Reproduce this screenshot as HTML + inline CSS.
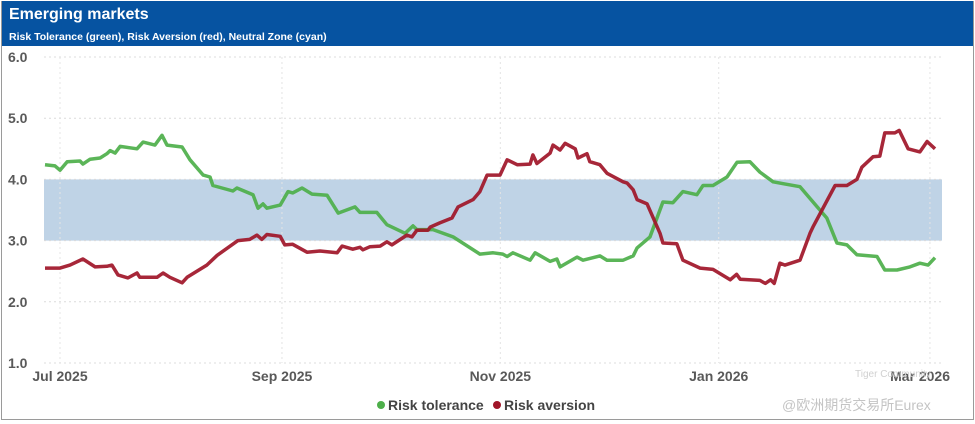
<!DOCTYPE html>
<html><head><meta charset="utf-8"><style>
body{margin:0;background:#fff;width:975px;height:424px;overflow:hidden;font-family:"Liberation Sans","Noto Sans CJK SC",sans-serif}
#wrap{position:absolute;left:1px;top:1px;width:971px;height:418px;border:1px solid #9a9a9a;border-top:none}
#hdr{position:absolute;left:0;top:0;width:971px;height:45px;background:#0653a1}
#t1{position:absolute;left:7px;top:5px;color:#fff;font-weight:bold;font-size:16px}
#t2{position:absolute;left:7px;top:30px;color:#fff;font-weight:bold;font-size:10.5px}
svg{position:absolute;left:0;top:0}
</style></head><body>
<div id="wrap">
<div id="hdr">
<div id="t1">Emerging markets</div>
<div id="t2">Risk Tolerance (green), Risk Aversion (red), Neutral Zone (cyan)</div>
</div></div>
<svg id="chart" width="975" height="424"></svg>
<script>
const yTicks=[1,2,3,4,5,6];
const xTickDays=[0,62,123,184,243];
const xTickLabels=["Jul 2025","Sep 2025","Nov 2025","Jan 2026","Mar 2026"];
const neutralZone=[3,4];
const greenDays=[-4.2,-1.4,0,2,5.6,6.4,8.4,11.2,13.1,14,15.4,16.8,21.5,23.2,26.5,28.5,29.9,34.1,36.3,40,41.9,42.7,48.3,49.4,53.9,55.3,56.7,57.8,61.5,63.7,65,67.6,70.4,74.6,77.7,82.4,83.8,88.5,91.3,96.4,98.6,99.7,104.2,109.8,117.3,121,123.7,124.9,126.5,131.3,132.7,136.9,138.8,139.7,144.4,146.1,150.8,152.8,157.3,160.1,161.2,164.8,168.4,171.2,174,177.9,179.6,182.4,186.3,189.1,192.7,195.5,199.2,202,206.7,211.5,214.2,217,219.8,222.6,228.2,230.4,233.8,237.4,240.2,242.5,244.4];
const greenVals=[4.24,4.22,4.15,4.29,4.3,4.25,4.33,4.35,4.42,4.47,4.43,4.54,4.5,4.61,4.56,4.72,4.56,4.53,4.32,4.07,4.04,3.9,3.81,3.86,3.75,3.53,3.6,3.53,3.58,3.8,3.78,3.86,3.76,3.74,3.45,3.55,3.46,3.46,3.26,3.12,3.24,3.18,3.18,3.06,2.78,2.8,2.78,2.74,2.8,2.68,2.8,2.66,2.7,2.57,2.73,2.68,2.75,2.68,2.68,2.75,2.88,3.06,3.63,3.62,3.8,3.75,3.9,3.9,4.04,4.28,4.29,4.12,3.96,3.93,3.88,3.55,3.37,2.96,2.93,2.77,2.74,2.52,2.52,2.57,2.63,2.6,2.72];
const redDays=[-4.2,0,2.8,6.4,9.8,13.1,14.5,16.2,19,21.5,22.3,27.1,28.8,30.7,34.1,35.5,41,43.9,49.7,53,55,56.4,57.8,61.5,62.8,65,69,72.6,77.4,78.8,81.8,83.8,84.6,86.6,89.4,91.3,92.7,96.9,98.3,99.7,102.8,103.4,106.1,109.5,111.2,115.4,117.3,119.3,122.9,124.9,127.7,131.3,132.1,133.2,136.9,137.7,139.7,141.1,143.9,144.7,147.2,148,150.8,152.8,157.3,158.4,160.1,161.2,164,167.6,168.4,172.3,174,178.8,182.4,187.2,189,190,195.5,197,198.5,199.5,201.1,202.5,206.7,209.5,210.3,216.5,219.8,222.6,224,227.1,229,230.4,233.2,234.4,236.9,240.2,242.2,244.4];
const redVals=[2.55,2.55,2.6,2.7,2.57,2.58,2.6,2.44,2.39,2.47,2.4,2.4,2.47,2.4,2.31,2.4,2.6,2.76,3.0,3.02,3.09,3.02,3.1,3.07,2.93,2.94,2.81,2.83,2.8,2.91,2.86,2.89,2.85,2.9,2.91,2.98,2.93,3.09,3.06,3.17,3.17,3.22,3.29,3.37,3.55,3.67,3.8,4.07,4.07,4.32,4.24,4.25,4.4,4.26,4.43,4.56,4.48,4.59,4.5,4.35,4.42,4.29,4.24,4.1,3.96,3.94,3.83,3.67,3.6,3.12,2.96,2.95,2.68,2.55,2.53,2.36,2.45,2.37,2.35,2.3,2.36,2.3,2.63,2.6,2.68,3.12,3.22,3.9,3.9,4.0,4.2,4.37,4.38,4.76,4.76,4.8,4.5,4.45,4.62,4.5];

const NS="http://www.w3.org/2000/svg";
const svg=document.getElementById('chart');
const X0=44,X1=942;
const xs=d=>60+d*3.58;
const ys=v=>57+(6-v)*61.2;
function mk(t,a,p){const e=document.createElementNS(NS,t);for(const k in a)e.setAttribute(k,a[k]);(p||svg).appendChild(e);return e;}
// neutral band
let band=mk('rect',{x:X0,y:ys(neutralZone[1]),width:X1-X0,height:ys(neutralZone[0])-ys(neutralZone[1]),fill:'#bfd3e6'});


// grid + y labels
yTicks.forEach(v=>{
 let g=mk('line',{x1:X0,x2:X1,y1:ys(v),y2:ys(v),stroke:'#dcdcdc','stroke-dasharray':'2,3'});
 
 
 let t=mk('text',{x:8,y:ys(v)+5,'font-size':14,'font-weight':'bold',fill:'#595959'});
 t.textContent=v.toFixed(1);
 
 
});
xTickDays.forEach((d,i)=>{
 let g=mk('line',{x1:xs(d),x2:xs(d),y1:57,y2:363,stroke:'#e4e4e4','stroke-dasharray':'2,3'});
 
 
 let last=i===xTickDays.length-1;
 let t=mk('text',{x:last?950:xs(d),y:381,'font-size':14,'font-weight':'bold',fill:'#595959','text-anchor':last?'end':'middle'});
 t.textContent=xTickLabels[i];
 
 
});
function series(days,vals,color,name){
 const pts=days.map((d,i)=>xs(d).toFixed(1)+','+ys(vals[i]).toFixed(1)).join(' ');
 let p=mk('polyline',{points:pts,fill:'none',stroke:color,'stroke-width':3.5,'stroke-linejoin':'round','stroke-opacity':0.92});
 
 
}
series(greenDays,greenVals,'#4daf4a','risk-tolerance-line');
series(redDays,redVals,'#a01528','risk-aversion-line');
// legend
let lg=mk('g',{});


let c1=mk('circle',{cx:381,cy:405,r:4,fill:'#4daf4a'},lg);


let l1=mk('text',{x:388,y:410,'font-size':14,'font-weight':'bold',fill:'#444'},lg);
l1.textContent='Risk tolerance';


let c2=mk('circle',{cx:497,cy:405,r:4,fill:'#a01528'},lg);


let l2=mk('text',{x:504,y:410,'font-size':14,'font-weight':'bold',fill:'#444'},lg);
l2.textContent='Risk aversion';


// watermark
let w=mk('text',{x:782,y:410,'font-size':14,fill:'#c4c4c4'});
w.textContent='@欧洲期货交易所Eurex';


let w2=mk('text',{x:855,y:377,'font-size':10,fill:'#d0d0d0'});
w2.textContent='Tiger Community';


</script>
</body></html>
